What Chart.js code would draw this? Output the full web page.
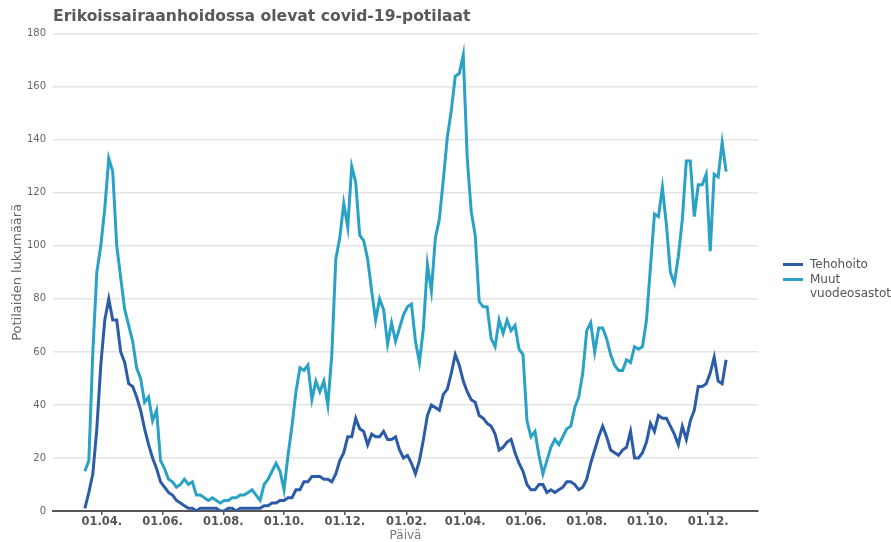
<!DOCTYPE html>
<html>
<head>
<meta charset="utf-8">
<script src="https://cdn.jsdelivr.net/npm/chart.js@4"></script>
<style>
  body { margin: 0; background: #fff; }
  #wrap { position: relative; width: 891px; height: 542px; }
  #legend { position: absolute; left: 783px; top: 257px; font: 12px 'DejaVu Sans', sans-serif; color: #555; }
  .item { display: flex; align-items: flex-start; margin-bottom: 1px; line-height: 14px; }
  .swatch { width: 20px; height: 3px; margin: 6px 7px 0 0; flex: none; }
  .label { width: 90px; }
</style>
</head>
<body>
<div id="wrap">
  <canvas id="chart" width="891" height="542"></canvas>
  <div id="legend"></div>
</div>
<script>
// every 4th day starting 15.03.2020
const startDate = '2020-03-15';
const stepDays = 4;

const tehohoito = [
    1, 7, 14, 31, 55, 72, 80, 72, 72, 60, 56, 48, 47, 43, 38, 31, 25, 20, 16, 11,
    9, 7, 6, 4, 3, 2, 1, 1, 0, 1, 1, 1, 1, 1, 0, 0, 1, 1, 0, 1,
    1, 1, 1, 1, 1, 2, 2, 3, 3, 4, 4, 5, 5, 8, 8, 11, 11, 13, 13, 13,
    12, 12, 11, 14, 19, 22, 28, 28, 35, 31, 30, 25, 29, 28, 28, 30, 27, 27, 28, 23,
    20, 21, 18, 14, 19, 27, 36, 40, 39, 38, 44, 46, 52, 59, 55, 49, 45, 42, 41, 36,
    35, 33, 32, 29, 23, 24, 26, 27, 22, 18, 15, 10, 8, 8, 10, 10, 7, 8, 7, 8,
    9, 11, 11, 10, 8, 9, 12, 18, 23, 28, 32, 28, 23, 22, 21, 23, 24, 30, 20, 20,
    22, 26, 33, 30, 36, 35, 35, 32, 29, 25, 32, 27, 34, 38, 47, 47, 48, 52, 58, 49, 48, 57
];

const muutOsastot = [
    15, 19, 60, 90, 100, 114, 133, 128, 100, 88, 76, 70, 64, 54, 50, 41, 43, 34, 38, 19,
    16, 12, 11, 9, 10, 12, 10, 11, 6, 6, 5, 4, 5, 4, 3, 4, 4, 5, 5, 6,
    6, 7, 8, 6, 4, 10, 12, 15, 18, 15, 8, 21, 32, 45, 54, 53, 55, 42, 49, 45,
    49, 40, 59, 95, 103, 116, 107, 130, 124, 104, 102, 95, 83, 72, 80, 76, 63, 71, 64, 69,
    74, 77, 78, 64, 56, 69, 93, 83, 103, 110, 125, 141, 151, 164, 165, 172, 133, 113, 104, 79,
    77, 77, 65, 62, 72, 67, 72, 68, 70, 61, 59, 34, 28, 30, 21, 14, 19, 24, 27, 25,
    28, 31, 32, 39, 43, 52, 68, 71, 60, 69, 69, 65, 59, 55, 53, 53, 57, 56, 62, 61,
    62, 72, 92, 112, 111, 122, 108, 90, 86, 96, 110, 132, 132, 111, 123, 123, 127, 98, 127, 126, 139, 128
];

const tickDates = ['2020-04-01', '2020-06-01', '2020-08-01', '2020-10-01', '2020-12-01', '2021-02-01',
                   '2021-04-01', '2021-06-01', '2021-08-01', '2021-10-01', '2021-12-01'];
const tickLabels = ['01.04.', '01.06.', '01.08.', '01.10.', '01.12.', '01.02.',
                    '01.04.', '01.06.', '01.08.', '01.10.', '01.12.'];
const yTicks = [0, 20, 40, 60, 80, 100, 120, 140, 160, 180];

const DAY = 86400000;
const refTime = Date.parse('2020-04-01');
const toDay = s => Math.round((Date.parse(s) - refTime) / DAY);
const startDay = toDay(startDate);
const tickDays = tickDates.map(toDay);

const points = arr => arr.map((v, i) => ({ x: startDay + i * stepDays, y: v }));

const font = "'DejaVu Sans', sans-serif";

const chart = new Chart(document.getElementById('chart'), {
    type: 'line',
    data: {
        datasets: [
            { label: 'Tehohoito', data: points(tehohoito), borderColor: '#2c5ca8', borderWidth: 3 },
            { label: 'Muut vuodeosastot', data: points(muutOsastot), borderColor: '#29a2c6', borderWidth: 3 }
        ]
    },
    options: {
        responsive: false,
        animation: false,
        layout: { padding: { left: 0, right: 133, top: 0, bottom: 0 } },
        elements: { point: { radius: 0 }, line: { tension: 0 } },
        plugins: {
            legend: { display: false },
            tooltip: { enabled: false },
            title: {
                display: true,
                text: 'Erikoissairaanhoidossa olevat covid-19-potilaat',
                align: 'start',
                fullSize: false,
                color: '#595959',
                font: { family: font, size: 15.6, weight: 'bold', lineHeight: 1.2 },
                padding: { top: 8, bottom: 7 }
            }
        },
        scales: {
            x: {
                type: 'linear',
                min: -49,
                max: 659,
                afterBuildTicks: scale => { scale.ticks = tickDays.map(v => ({ value: v })); },
                afterFit: scale => { scale.height = 31; },
                grid: { drawOnChartArea: false, drawTicks: true, tickLength: 4, color: '#555', lineWidth: 1.5 },
                border: { color: '#555', width: 2 },
                ticks: {
                    autoSkip: false,
                    maxRotation: 0,
                    padding: 0,
                    color: '#555',
                    font: { family: font, size: 11.5, weight: 'bold', lineHeight: 1.2 },
                    callback: v => tickLabels[tickDays.indexOf(v)]
                },
                title: {
                    display: true,
                    text: 'Päivä',
                    color: '#777',
                    font: { family: font, size: 12, lineHeight: 1 },
                    padding: 0
                }
            },
            y: {
                min: 0,
                max: 180,
                afterBuildTicks: scale => { scale.ticks = yTicks.map(v => ({ value: v })); },
                afterFit: scale => { scale.width = 53; },
                grid: { drawTicks: false, color: '#e4e4e4', lineWidth: 1.5 },
                border: { display: false },
                ticks: { padding: 7, color: '#666', font: { family: font, size: 10 } },
                title: {
                    display: true,
                    text: 'Potilaiden lukumäärä',
                    color: '#666',
                    font: { family: font, size: 13, lineHeight: 1.2 },
                    padding: { top: 10, bottom: 0 }
                }
            }
        }
    }
});

// html legend so the long label can wrap
const legend = document.getElementById('legend');
chart.data.datasets.forEach(ds => {
    const item = document.createElement('div');
    item.className = 'item';
    const sw = document.createElement('span');
    sw.className = 'swatch';
    sw.style.background = ds.borderColor;
    const lab = document.createElement('span');
    lab.className = 'label';
    lab.textContent = ds.label;
    item.appendChild(sw);
    item.appendChild(lab);
    legend.appendChild(item);
});
</script>
</body>
</html>
